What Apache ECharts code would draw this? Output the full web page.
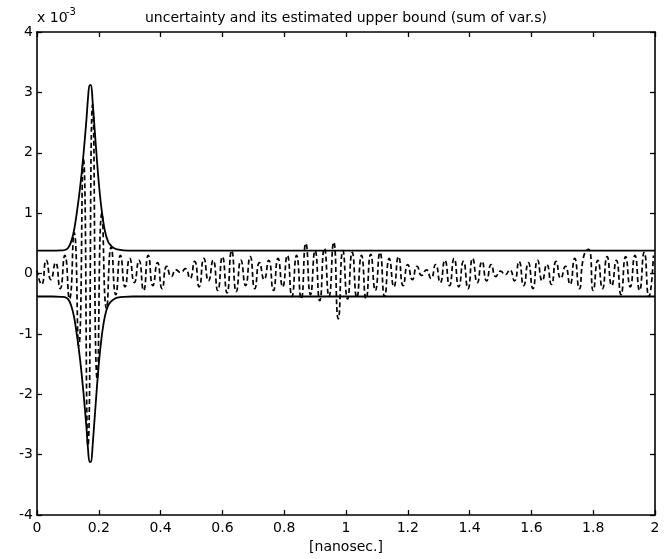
<!DOCTYPE html>
<html>
<head>
<meta charset="utf-8">
<script src="https://cdn.jsdelivr.net/npm/echarts@6/dist/echarts.min.js"></script>
<style>html,body{margin:0;padding:0;background:#fff}#c{width:664px;height:559px}</style>
</head>
<body>
<div id="c"></div>
<script>
const titleText = 'uncertainty and its estimated upper bound (sum of var.s)';
const xAxisName = '[nanosec.]';
const xTicks = [0, 0.2, 0.4, 0.6, 0.8, 1, 1.2, 1.4, 1.6, 1.8, 2];
const yTicks = [-4, -3, -2, -1, 0, 1, 2, 3, 4];

// bound (units of 1e-3)
const boundX = [0, 0.05, 0.08, 0.09, 0.10, 0.11, 0.12, 0.13, 0.14, 0.15, 0.16, 0.165, 0.17, 0.175, 0.18, 0.19, 0.20, 0.21, 0.22, 0.23, 0.24, 0.25, 0.26, 0.28, 0.31, 0.6, 1.0, 1.4, 2.0];
const upperBound = [0.38, 0.38, 0.385, 0.39, 0.42, 0.52, 0.72, 1.05, 1.45, 1.95, 2.55, 2.9, 3.12, 3.12, 2.85, 2.15, 1.5, 1.02, 0.70, 0.53, 0.46, 0.42, 0.40, 0.385, 0.38, 0.38, 0.38, 0.38, 0.38];
const lowerBound = [-0.38, -0.38, -0.385, -0.39, -0.42, -0.52, -0.72, -1.05, -1.45, -1.95, -2.55, -2.9, -3.12, -3.12, -2.85, -2.15, -1.5, -1.02, -0.70, -0.53, -0.46, -0.42, -0.40, -0.385, -0.38, -0.38, -0.38, -0.38, -0.38];

// uncertainty signal (units of 1e-3), sampled every 0.015 ns
const sigX = [
0.000,0.015,0.030,0.045,0.060,0.075,0.090,0.105,0.120,0.135,
0.150,0.165,0.180,0.195,0.210,0.225,0.240,0.255,0.270,0.285,
0.300,0.315,0.330,0.345,0.360,0.375,0.390,0.405,0.420,0.435,
0.450,0.465,0.480,0.495,0.510,0.525,0.540,0.555,0.570,0.585,
0.600,0.615,0.630,0.645,0.660,0.675,0.690,0.705,0.720,0.735,
0.750,0.765,0.780,0.795,0.810,0.825,0.840,0.855,0.870,0.885,
0.900,0.915,0.930,0.945,0.960,0.975,0.990,1.005,1.020,1.035,
1.050,1.065,1.080,1.095,1.110,1.125,1.140,1.155,1.170,1.185,
1.200,1.215,1.230,1.245,1.260,1.275,1.290,1.305,1.320,1.335,
1.350,1.365,1.380,1.395,1.410,1.425,1.440,1.455,1.470,1.485,
1.500,1.515,1.530,1.545,1.560,1.575,1.590,1.605,1.620,1.635,
1.650,1.665,1.680,1.695,1.710,1.725,1.740,1.755,1.770,1.785,
1.800,1.815,1.830,1.845,1.860,1.875,1.890,1.905,1.920,1.935,
1.950,1.965,1.980,1.995];
const sigY = [
 0.05,-0.18, 0.22,-0.10, 0.18,-0.25, 0.30,-0.42, 0.68,-1.20,
 1.90,-2.85, 2.80,-1.75, 1.00,-0.58, 0.44,-0.35, 0.30,-0.22,
 0.25,-0.15, 0.22,-0.28, 0.30,-0.20, 0.18,-0.25, 0.12,-0.05,
 0.06, 0.02, 0.08,-0.08, 0.20,-0.22, 0.25,-0.12, 0.22,-0.28,
 0.28,-0.32, 0.38,-0.30, 0.22,-0.20, 0.28,-0.25, 0.18,-0.10,
 0.22,-0.28, 0.25,-0.22, 0.30,-0.38, 0.30,-0.42, 0.50,-0.35,
 0.38,-0.45, 0.42,-0.38, 0.52,-0.75, 0.38,-0.42, 0.35,-0.40,
 0.30,-0.42, 0.32,-0.28, 0.35,-0.38, 0.25,-0.22, 0.28,-0.20,
 0.15,-0.10, 0.12,-0.03, 0.06,-0.08, 0.15,-0.15, 0.22,-0.20,
 0.25,-0.22, 0.20,-0.25, 0.25,-0.15, 0.20,-0.12, 0.15,-0.05,
 0.04,-0.02, 0.06,-0.12, 0.20,-0.20, 0.18,-0.25, 0.22,-0.12,
 0.15,-0.18, 0.20,-0.08, 0.12,-0.18, 0.25,-0.25, 0.30, 0.40,
-0.28, 0.22,-0.25, 0.28,-0.20, 0.22,-0.35, 0.28,-0.22, 0.30,
-0.28, 0.35,-0.38, 0.30];

const pairs = (xs, ys) => xs.map((x, i) => [x, ys[i]]);

const FONT = '"DejaVu Sans", "Liberation Sans", Arial, sans-serif';
const chart = echarts.init(document.getElementById('c'), null, {renderer: 'canvas'});

const tickStyle = {show: true, inside: true, length: 5, lineStyle: {color: '#000', width: 1.3}};
const lineStyleAxis = {show: true, onZero: false, lineStyle: {color: '#000', width: 1.6}};

chart.setOption({
  animation: false,
  backgroundColor: '#fff',
  title: {
    text: titleText, left: 140, top: 6,
    textStyle: {fontFamily: FONT, fontSize: 14, fontWeight: 'normal', color: '#000'}
  },
  grid: {left: 37, right: 9, top: 32, bottom: 41},
  graphic: [
    {type: 'text', left: 37, top: 11, style: {text: 'x 10', font: '14px ' + FONT, fill: '#000'}},
    {type: 'text', left: 66, top: 7, style: {text: '-3', font: '10px ' + FONT, fill: '#000'}}
  ],
  xAxis: [
    {
      type: 'value', position: 'bottom', min: xTicks[0], max: xTicks[xTicks.length - 1], interval: 0.2,
      name: xAxisName, nameLocation: 'middle', nameGap: 24,
      nameTextStyle: {fontFamily: FONT, fontSize: 14, color: '#000'},
      axisLine: lineStyleAxis, axisTick: tickStyle, splitLine: {show: false},
      axisLabel: {fontFamily: FONT, fontSize: 14, color: '#000', margin: 6,
        formatter: v => String(Math.round(v * 10) / 10)}
    },
    {
      type: 'value', position: 'top', min: xTicks[0], max: xTicks[xTicks.length - 1], interval: 0.2,
      axisLine: lineStyleAxis, axisTick: tickStyle, splitLine: {show: false}, axisLabel: {show: false}
    }
  ],
  yAxis: [
    {
      type: 'value', position: 'left', min: yTicks[0], max: yTicks[yTicks.length - 1], interval: 1,
      axisLine: lineStyleAxis, axisTick: tickStyle, splitLine: {show: false},
      axisLabel: {fontFamily: FONT, fontSize: 14, color: '#000', margin: 4}
    },
    {
      type: 'value', position: 'right', min: yTicks[0], max: yTicks[yTicks.length - 1], interval: 1,
      axisLine: lineStyleAxis, axisTick: tickStyle, splitLine: {show: false}, axisLabel: {show: false}
    }
  ],
  series: [
    {
      name: 'uncertainty', type: 'line', data: pairs(sigX, sigY), symbol: 'none', smooth: 0.6,
      lineStyle: {color: '#000', width: 1.7, type: [5, 3]}, z: 2
    },
    {
      name: 'upper bound', type: 'line', data: pairs(boundX, upperBound), symbol: 'none', smooth: 0.3,
      lineStyle: {color: '#000', width: 1.8}, z: 3
    },
    {
      name: 'lower bound', type: 'line', data: pairs(boundX, lowerBound), symbol: 'none', smooth: 0.3,
      lineStyle: {color: '#000', width: 1.8}, z: 3
    }
  ]
});
</script>
</body>
</html>
